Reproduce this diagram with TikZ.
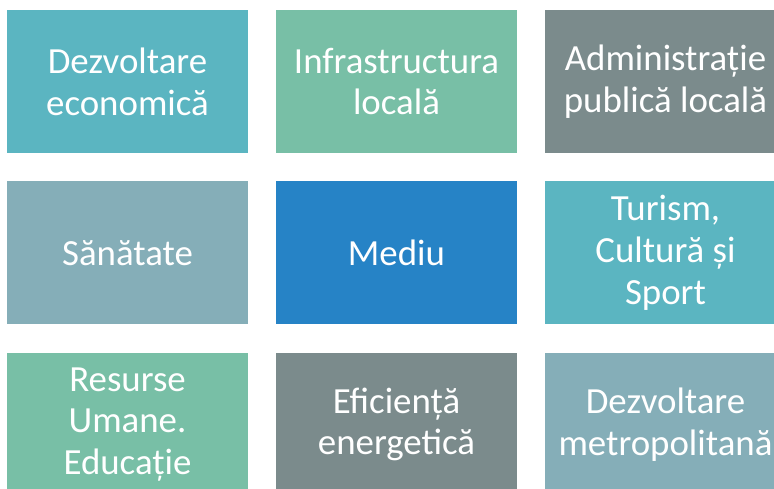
\documentclass[tikz,border=0pt]{standalone}
\usepackage{fontspec}
\setmainfont{Carlito}
\definecolor{tealbox}{HTML}{5BB5C1}
\definecolor{greenbox}{HTML}{78BFA6}
\definecolor{greybox}{HTML}{7B8B8C}
\definecolor{slatebox}{HTML}{85AEB8}
\definecolor{bluebox}{HTML}{2683C6}

\begin{document}
\begin{tikzpicture}[
    x=1bp, y=1bp,
    every node/.style={font=\fontsize{37}{42}\selectfont},
    tile/.style={minimum width=241bp, minimum height=143bp, inner sep=0pt,
        text=white, align=center}
]
\useasboundingbox (0,0) rectangle (774,489);
\clip (0,0) rectangle (774,489);

% --- Row 1 ---
\node[tile, fill=tealbox] (econ) at (127.5,407.5) {Dezvoltare\\economică};
\node[tile, fill=greenbox] (infra) at (396.5,407.5) {Infrastructura\\locală};
\node[tile, fill=greybox] (admin) at (665.5,407.5) {Administrație\\publică locală};

% --- Row 2 ---
\node[tile, fill=slatebox] (sanatate) at (127.5,236) {Sănătate};
\node[tile, fill=bluebox] (mediu) at (396.5,236) {Mediu};
\node[tile, fill=tealbox] (turism) at (665.5,236) {Turism,\\Cultură și\\Sport};

% --- Row 3 ---
\node[tile, fill=greenbox] (resurse) at (127.5,64.5) {Resurse\\Umane.\\Educație};
\node[tile, fill=greybox] (energie) at (396.5,64.5) {Eficiență\\energetică};
\node[tile, fill=slatebox] (metro) at (665.5,64.5) {Dezvoltare\\metropolitană};

\end{tikzpicture}
\end{document}
